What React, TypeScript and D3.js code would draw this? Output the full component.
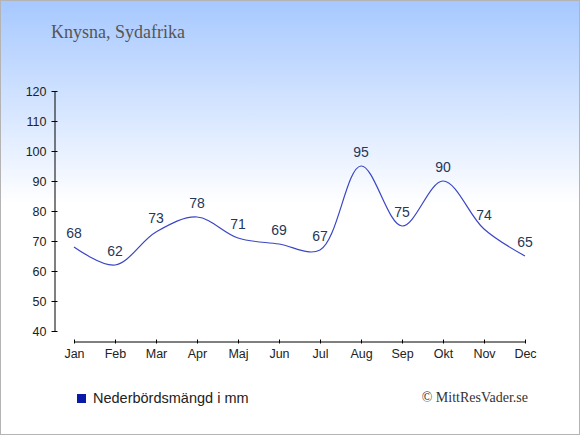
import { useRef, useEffect } from "react";
import * as d3 from "d3";

const months = ["Jan", "Feb", "Mar", "Apr", "Maj", "Jun", "Jul", "Aug", "Sep", "Okt", "Nov", "Dec"];
const precipitation = [68, 62, 73, 78, 71, 69, 67, 95, 75, 90, 74, 65];
const yTicks = [40, 50, 60, 70, 80, 90, 100, 110, 120];

const title = "Knysna, Sydafrika";
const legendLabel = "Nederbördsmängd i mm";
const credit = "© MittResVader.se";

const width = 580;
const height = 435;

function PrecipChart() {
  const svgRef = useRef<SVGSVGElement>(null);

  useEffect(() => {
    if (!svgRef.current) return;
    const svg = d3.select(svgRef.current);
    svg.selectAll("*").remove();

    const sans = "'Liberation Sans', Arial, sans-serif";
    const serif = "'Liberation Serif', 'Times New Roman', serif";

    // background gradient
    const defs = svg.append("defs");
    const grad = defs
      .append("linearGradient")
      .attr("id", "bg")
      .attr("x1", 0)
      .attr("y1", 0)
      .attr("x2", 0)
      .attr("y2", 1);
    grad.append("stop").attr("offset", 0).attr("stop-color", "#a6c8ff");
    grad.append("stop").attr("offset", 0.47).attr("stop-color", "#ffffff");

    svg
      .append("rect")
      .attr("width", width)
      .attr("height", height)
      .attr("fill", "url(#bg)")
      .attr("stroke", "#b4b4b4")
      .attr("stroke-width", 2);

    svg
      .append("text")
      .attr("x", 51)
      .attr("y", 38)
      .attr("font-family", serif)
      .attr("font-size", 18)
      .attr("fill", "#555")
      .text(title);

    const x = d3.scalePoint<string>().domain(months).range([74, 525]);
    const y = d3.scaleLinear().domain([40, 120]).range([331, 91]);

    // y axis
    const yAxis = svg
      .append("g")
      .attr("transform", "translate(54.5,0)")
      .call(d3.axisLeft(y).tickValues(yTicks).tickSize(3).tickPadding(5).tickSizeOuter(0));
    yAxis.select(".domain").attr("stroke", "#000");
    yAxis.selectAll(".tick line").attr("stroke", "#000").attr("x2", 3).attr("x1", -3);
    yAxis
      .selectAll(".tick text")
      .attr("x", -8)
      .attr("fill", "#222")
      .attr("font-size", 12.5)
      .attr("font-family", sans);

    // x axis
    const xAxis = svg
      .append("g")
      .attr("transform", "translate(0,341.5)")
      .call(d3.axisBottom(x).tickSize(2).tickPadding(6).tickSizeOuter(0));
    xAxis.select(".domain").attr("stroke", "#000");
    xAxis.selectAll(".tick line").attr("stroke", "#000").attr("y1", -2).attr("y2", 2);
    xAxis
      .selectAll(".tick text")
      .attr("fill", "#222")
      .attr("font-size", 12.5)
      .attr("font-family", sans);

    const pts = months.map((m, i) => ({ m, v: precipitation[i] }));

    const line = d3
      .line<{ m: string; v: number }>()
      .x((d) => x(d.m) as number)
      .y((d) => y(d.v))
      .curve(d3.curveCatmullRom.alpha(0.5));

    svg
      .append("path")
      .datum(pts)
      .attr("fill", "none")
      .attr("stroke", "#3a46c4")
      .attr("stroke-width", 1.2)
      .attr("d", line);

    svg
      .append("g")
      .selectAll("text")
      .data(pts)
      .join("text")
      .attr("x", (d) => x(d.m) as number)
      .attr("y", (d) => y(d.v) - 9)
      .attr("text-anchor", "middle")
      .attr("font-family", sans)
      .attr("font-size", 14)
      .attr("fill", "#263758")
      .text((d) => d.v);

    // legend
    svg
      .append("rect")
      .attr("x", 77)
      .attr("y", 394)
      .attr("width", 9)
      .attr("height", 9)
      .attr("fill", "#0a1aa8");
    svg
      .append("text")
      .attr("x", 93)
      .attr("y", 403)
      .attr("font-family", sans)
      .attr("font-size", 14.5)
      .attr("fill", "#222")
      .text(legendLabel);

    svg
      .append("text")
      .attr("x", 528)
      .attr("y", 402)
      .attr("text-anchor", "end")
      .attr("font-family", serif)
      .attr("font-size", 14)
      .attr("fill", "#333")
      .text(credit);
  }, []);

  return <svg ref={svgRef} width={width} height={height} style={{ display: "block" }} />;
}

export default function App() {
  return (
    <div style={{ position: "absolute", left: 0, top: 0 }}>
      <PrecipChart />
    </div>
  );
}
